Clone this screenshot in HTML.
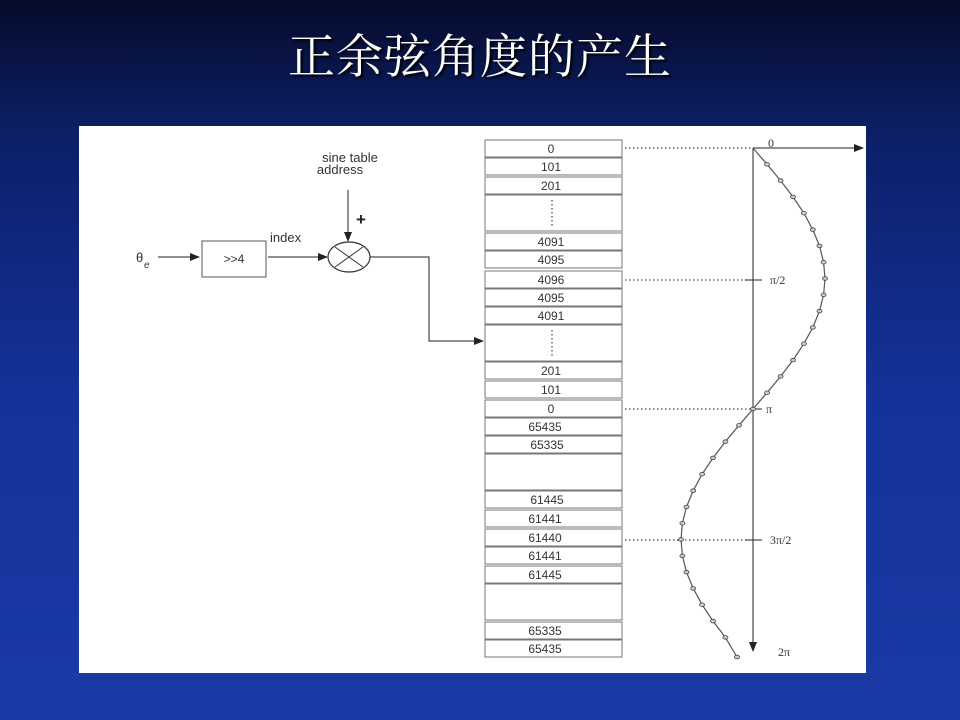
<!DOCTYPE html>
<html><head><meta charset="utf-8"><style>
html,body{margin:0;padding:0;width:960px;height:720px;overflow:hidden}
body{background:linear-gradient(180deg,#050b2a 0%,#0c1f66 18%,#14329a 55%,#1a3aa6 100%);position:relative;font-family:"Liberation Sans",sans-serif}
.t{position:absolute;left:0;width:960px;top:28px;text-align:center;color:#fff;font-family:"Liberation Serif","Noto Serif CJK SC",serif;font-size:47px;line-height:60px;text-shadow:2px 2px 2px #000;letter-spacing:1px}
svg{position:absolute;left:0;top:0}
</style></head><body>
<div class="t">正余弦角度的产生</div>
<svg width="960" height="720" viewBox="0 0 960 720">
<defs>
<marker id="a" markerWidth="10" markerHeight="8" refX="9" refY="4" orient="auto" markerUnits="userSpaceOnUse"><path d="M0,0 L10,4 L0,8z" fill="#222"/></marker>
<marker id="d" markerWidth="6" markerHeight="6" refX="3" refY="3" markerUnits="userSpaceOnUse"><ellipse cx="3" cy="3" rx="2.5" ry="1.8" fill="#ccc" stroke="#444" stroke-width="0.8"/></marker>
</defs>
<rect x="79" y="126" width="787" height="547" fill="#fff"/>
<g font-family="Liberation Sans,sans-serif" fill="#333">
<text x="136" y="262" font-size="13">θ</text><text x="144" y="268" font-size="10" font-style="italic">e</text>
<line x1="158" y1="257" x2="199" y2="257" stroke="#222" marker-end="url(#a)"/>
<rect x="202" y="241" width="64" height="36" fill="#fff" stroke="#555"/>
<text x="234" y="263" font-size="12" text-anchor="middle">&gt;&gt;4</text>
<text x="270" y="242" font-size="13">index</text>
<line x1="268" y1="257" x2="327" y2="257" stroke="#222" marker-end="url(#a)"/>
<ellipse cx="349" cy="257" rx="21" ry="15" fill="#fff" stroke="#333" stroke-width="1.2"/>
<line x1="335" y1="247" x2="363" y2="267" stroke="#333"/><line x1="335" y1="267" x2="363" y2="247" stroke="#333"/>
<text x="350" y="162" font-size="13" text-anchor="middle">sine table</text>
<text x="340" y="174" font-size="13" text-anchor="middle">address</text>
<line x1="348" y1="190" x2="348" y2="241" stroke="#222" marker-end="url(#a)"/>
<text x="356" y="225" font-size="17" font-weight="bold" fill="#222">+</text>
<polyline points="370,257 429,257 429,341 483,341" fill="none" stroke="#222" marker-end="url(#a)"/>
</g>
<g stroke="#777" fill="#fff">
<rect x="485" y="140" width="137" height="17"/><rect x="485" y="158" width="137" height="17"/><rect x="485" y="177" width="137" height="17"/>
<rect x="485" y="195" width="137" height="36"/>
<rect x="485" y="233" width="137" height="17"/><rect x="485" y="251" width="137" height="17"/><rect x="485" y="271" width="137" height="17"/><rect x="485" y="289" width="137" height="17"/><rect x="485" y="307" width="137" height="17"/>
<rect x="485" y="325" width="137" height="36"/>
<rect x="485" y="362" width="137" height="17"/><rect x="485" y="381" width="137" height="17"/><rect x="485" y="400" width="137" height="17"/><rect x="485" y="418" width="137" height="17"/><rect x="485" y="436" width="137" height="17"/>
<rect x="485" y="454" width="137" height="36"/>
<rect x="485" y="491" width="137" height="17"/><rect x="485" y="510" width="137" height="17"/><rect x="485" y="529" width="137" height="17"/><rect x="485" y="547" width="137" height="17"/><rect x="485" y="566" width="137" height="17"/>
<rect x="485" y="584" width="137" height="36"/>
<rect x="485" y="622" width="137" height="17"/><rect x="485" y="640" width="137" height="17"/>
</g>
<g font-family="Liberation Sans,sans-serif" font-size="12" fill="#333" text-anchor="middle">
<text x="551" y="153">0</text><text x="551" y="171">101</text><text x="551" y="190">201</text>
<text x="551" y="246">4091</text><text x="551" y="264">4095</text><text x="551" y="284">4096</text><text x="551" y="302">4095</text><text x="551" y="320">4091</text>
<text x="551" y="375">201</text><text x="551" y="394">101</text><text x="551" y="413">0</text><text x="545" y="431">65435</text><text x="547" y="449">65335</text>
<text x="547" y="504">61445</text><text x="545" y="523">61441</text><text x="545" y="542">61440</text><text x="545" y="560">61441</text><text x="545" y="579">61445</text>
<text x="545" y="635">65335</text><text x="545" y="653">65435</text>
</g>
<g stroke="#444" stroke-dasharray="1.5,2.5" stroke-width="1.2">
<line x1="552" y1="200" x2="552" y2="226"/><line x1="552" y1="330" x2="552" y2="356"/>
<line x1="625" y1="148" x2="753" y2="148"/><line x1="625" y1="280" x2="748" y2="280"/>
<line x1="625" y1="409" x2="753" y2="409"/><line x1="625" y1="540" x2="748" y2="540"/>
</g>
<g stroke="#222" fill="none">
<line x1="753" y1="148" x2="863" y2="148" marker-end="url(#a)"/>
<line x1="753" y1="148" x2="753" y2="651" marker-end="url(#a)"/>
<line x1="745" y1="280" x2="762" y2="280"/><line x1="753" y1="409" x2="762" y2="409"/><line x1="745" y1="540" x2="762" y2="540"/>
</g>
<polyline fill="none" stroke="#555" stroke-width="1.2" marker-mid="url(#d)" marker-end="url(#d)" points="753,148 767,164.3 780.6,180.6 793,196.9 803.9,213.2 812.8,229.6 819.5,245.9 823.6,262.2 825,278.5 823.6,294.8 819.5,311.1 812.8,327.4 803.9,343.7 793,360.1 780.6,376.4 767,392.7 753,409 739,425.3 725.4,441.6 713,457.9 702.1,474.2 693.2,490.6 686.5,506.9 682.4,523.2 681,539.5 682.4,555.8 686.5,572.1 693.2,588.4 702.1,604.7 713,621.1 725.4,637.4 737,657"/>
<g font-family="Liberation Serif,serif" font-size="12" fill="#333">
<text x="768" y="147">0</text><text x="770" y="284">π/2</text><text x="766" y="413">π</text><text x="770" y="544">3π/2</text><text x="778" y="656">2π</text>
</g>
</svg>
</body></html>
